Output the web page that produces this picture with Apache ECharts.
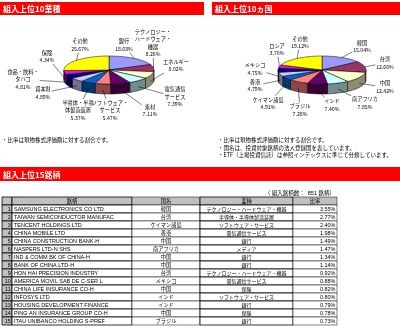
<!DOCTYPE html>
<html><head><meta charset="utf-8">
<script src="https://cdn.jsdelivr.net/npm/echarts@6/dist/echarts.min.js"></script>
<style>html,body{margin:0;padding:0;background:#fff}#c{width:400px;height:326px}</style>
</head><body><div id="c"></div>
<script>
// ---------- data ----------
const sectorNames = ['銀行','テクノロジー・ハードウェア・機器','エネルギー','電気通信サービス','素材','ソフトウェア・サービス','半導体・半導体製造装置','資本財','食品・飲料・タバコ','保険','その他'];
const sectorValues = [18.68, 8.26, 8.02, 7.39, 7.11, 5.47, 5.37, 4.89, 4.81, 4.34, 25.67];
const countryNames = ['韓国','台湾','中国','南アフリカ','インド','ブラジル','ケイマン諸島','香港','メキシコ','ロシア','その他'];
const countryValues = [15.04, 12.66, 12.42, 7.85, 7.40, 7.28, 4.91, 4.79, 4.75, 3.70, 19.12];
const holdingNames = ['SAMSUNG ELECTRONICS CO LTD','TAIWAN SEMICONDUCTOR MANUFAC','TENCENT HOLDINGS LTD','CHINA MOBILE LTD','CHINA CONSTRUCTION BANK-H','NASPERS LTD-N SHS','IND & COMM BK OF CHINA-H','BANK OF CHINA LTD-H','HON HAI PRECISION INDUSTRY','AMERICA MOVIL SAB DE C-SER L','CHINA LIFE INSURANCE CO-H','INFOSYS LTD','HOUSING DEVELOPMENT FINANCE','PING AN INSURANCE GROUP CO-H','ITAU UNIBANCO HOLDING S-PREF'];
const holdingCountries = ['韓国','台湾','ケイマン諸島','香港','中国','南アフリカ','中国','中国','台湾','メキシコ','中国','インド','インド','中国','ブラジル'];
const holdingSectors = ['テクノロジー・ハードウェア・機器','半導体・半導体製造装置','ソフトウェア・サービス','電気通信サービス','銀行','メディア','銀行','銀行','テクノロジー・ハードウェア・機器','電気通信サービス','保険','ソフトウェア・サービス','銀行','保険','銀行'];
const holdingWeights = [3.55, 2.77, 2.40, 1.98, 1.49, 1.47, 1.34, 1.14, 0.92, 0.88, 0.82, 0.80, 0.79, 0.78, 0.73];
const tableHeaders = ['', '銘柄', '国名', '業種', '比率'];
const totalHoldings = 851;

// ---------- layout / style ----------
const FONT = '"Liberation Sans","Noto Sans CJK JP",sans-serif';
const CJK = '"Noto Sans CJK JP",sans-serif';
const palette = ['#9999FF','#993366','#FFFFCC','#CCFFFF','#660066','#FF8080','#0066CC','#CCCCFF','#000080','#FF00FF','#FFFF00'];
const sectorLayout = {cx:109, cy:70, rx:45, ry:14, depth:10,
  wrap:[0,7,0,4,0,7,6,0,6,0,0],
  offs:[[15,-25],[44,-27],[67,-4.5],[66,27],[41,40.7],[1,40.3],[-31,40.3],[-66,23],[-86,9.5],[-62,-13.5],[-29,-25]]};
const countryLayout = {cx:322, cy:70, rx:44, ry:14, depth:10,
  wrap:[0,0,0,0,0,0,0,0,0,0,0],
  offs:[[40,-23.3],[63,-7],[63,17],[43,33],[10,35],[-22,40],[-54,33.3],[-67,15.5],[-67,-1],[-45,-20.6],[-22,-27.7]]};
const LBL_FS = 5.2, LBL_LH = 7.5;

function shade(hex, f){const n=parseInt(hex.slice(1),16);return 'rgb('+(((n>>16)&255)*f|0)+','+(((n>>8)&255)*f|0)+','+((n&255)*f|0)+')';}
function wrapText(s, w){ if(!w) return [s]; const out=[]; for(let i=0;i<s.length;i+=w) out.push(s.slice(i,i+w)); return out; }
function textW(s, fs){ let w=0; for(const ch of s){ w += ch.charCodeAt(0)>0x2e80 ? fs : fs*0.56; } return w; }

function pieSeries(names, values, L){
  const total = values.reduce((a,b)=>a+b,0);
  const starts=[]; let acc=0; values.forEach(v=>{starts.push(acc); acc+=v;});
  return {
    type:'custom', coordinateSystem:'none', silent:true, animation:false,
    data: values.map((v,i)=>({name:names[i], value:[v, starts[i]]})),
    renderItem(params, api){
      const i = params.dataIndex;
      const v = api.value(0), s = api.value(1);
      const a1 = s/total*2*Math.PI, a2 = (s+v)/total*2*Math.PI;
      const P = (a,dy)=>[L.cx + L.rx*Math.sin(a), L.cy - L.ry*Math.cos(a) + (dy||0)];
      const col = palette[i];
      const children = [];
      const f1 = Math.max(a1, Math.PI/2), f2 = Math.min(a2, 1.5*Math.PI);
      if (f2 > f1){
        const sp=[]; const m=Math.max(2,Math.ceil((f2-f1)/0.03));
        for(let k=0;k<=m;k++) sp.push(P(f1+(f2-f1)*k/m));
        for(let k=m;k>=0;k--) sp.push(P(f1+(f2-f1)*k/m, L.depth));
        children.push({type:'polygon', z2:1, shape:{points:sp}, style:{fill:shade(col,0.55), stroke:'#000', lineWidth:0.5}});
      }
      const pts=[[L.cx,L.cy]]; const n=Math.max(2,Math.ceil((a2-a1)/0.03));
      for(let k=0;k<=n;k++) pts.push(P(a1+(a2-a1)*k/n));
      children.push({type:'polygon', z2:2, shape:{points:pts}, style:{fill:col, stroke:'#000', lineWidth:0.5}});
      // label
      const lines = wrapText(names[i], L.wrap[i]).concat([v.toFixed(2)+'%']);
      const lx = L.cx + L.offs[i][0], ly = L.cy + L.offs[i][1];
      const hw = Math.max(...lines.map(t=>textW(t,LBL_FS)))/2 + 1, hh = lines.length*LBL_LH/2;
      children.push({type:'text', z2:5, style:{text:lines.join('\n'), x:lx, y:ly, fill:'#000', fontSize:LBL_FS, fontFamily:CJK, lineHeight:LBL_LH, align:'center', verticalAlign:'middle'}});
      // leader
      const am = (a1+a2)/2;
      const front = Math.cos(am) < 0;
      const st = P(am, front ? L.depth*0.6 : 0);
      const dx = st[0]-lx, dy = st[1]-ly;
      const t = Math.min(dx? hw/Math.abs(dx) : 1e9, dy? hh/Math.abs(dy) : 1e9);
      if (t < 1){
        const en = [lx+dx*t, ly+dy*t];
        children.push({type:'line', z2:4, shape:{x1:st[0], y1:st[1], x2:en[0], y2:en[1]}, style:{stroke:'#000', lineWidth:0.5}});
      }
      return {type:'group', children};
    }
  };
}

// ---------- table ----------
const colEdges = [0, 10, 130, 198, 291, 335];
const rowKeys = ['hdr'].concat(holdingNames.map((_,i)=>String(i+1)));
const tableSeries = {
  type:'custom', coordinateSystem:'cartesian2d', silent:true, animation:false, clip:false,
  data: rowKeys.map((_,i)=>[0,i]),
  encode:{x:0, y:1},
  renderItem(params, api){
    const r = params.dataIndex;
    const yc = api.coord([0, r])[1];
    const h = api.size([0, 1])[1];
    const y0 = yc - h/2;
    const xs = colEdges.map(e=>api.coord([e, r])[0]);
    const ch = [];
    for (let c=0;c<5;c++){
      const gray = (r===0 || c===0);
      ch.push({type:'rect', shape:{x:xs[c], y:y0, width:xs[c+1]-xs[c], height:h},
        style:{fill: gray ? '#C0C0C0' : '#fff', stroke:'#000', lineWidth: c===0||c===1||c===3 ? 0.8 : 0.5}});
    }
    const T = (text, x, align, fam, fs)=>ch.push({type:'text', z2:3, style:{text, x, y:yc+0.3, fill:'#000', fontSize:fs||5.5, fontFamily:fam||FONT, align, verticalAlign:'middle'}});
    if (r===0){
      for (let c=1;c<5;c++) T(tableHeaders[c], (xs[c]+xs[c+1])/2, 'center', CJK, 5.3);
    } else {
      const k = r-1;
      T(String(r), xs[1]-1.2, 'right');
      T(holdingNames[k], xs[1]+2, 'left');
      T(holdingCountries[k], (xs[2]+xs[3])/2, 'center', CJK, 5.2);
      T(holdingSectors[k], (xs[3]+xs[4])/2, 'center', CJK, 5);
      T(holdingWeights[k].toFixed(2)+'%', xs[5]-1.5, 'right');
    }
    return {type:'group', children:ch};
  }
};

function bar(x, y, w, h, text){
  return [
    {type:'rect', shape:{x, y, width:w, height:h}, style:{fill:'#FF0000'}, silent:true},
    {type:'text', style:{text, x:x+3, y:y+h/2+0.5, fill:'#fff', fontSize:8, fontWeight:'bold', fontFamily:CJK, verticalAlign:'middle'}, silent:true}
  ];
}
const noteStyle = (text, x, y)=>({type:'text', silent:true, style:{text, x, y, fill:'#000', fontSize:5.5, fontFamily:CJK, verticalAlign:'middle'}});

const chart = echarts.init(document.getElementById('c'), null, {renderer:'canvas'});
chart.setOption({
  animation:false,
  grid:{left:2, top:197, width:335, height:128},
  xAxis:{type:'value', min:0, max:335, show:false},
  yAxis:{type:'category', data:rowKeys, inverse:true, show:false},
  graphic:{elements:[].concat(
    bar(0, 2, 204, 13, '組入上位10業種'),
    bar(212, 2, 188, 13, '組入上位10ヵ国'),
    bar(0, 167, 400, 14, '組入上位15銘柄'),
    [
      noteStyle('・比率は現物株式評価額に対する割合です。', 2, 140),
      noteStyle('・比率は現物株式評価額に対する割合です。', 218, 140),
      noteStyle('・国名は、投資対象銘柄の法人登録国を表しています。', 218, 147.5),
      noteStyle('・ETF（上場投資信託）は参照インデックスに準じて分類しています。', 218, 155),
      {type:'text', silent:true, style:{text:'（ 組入銘柄数：  '+totalHoldings+' 銘柄）', x:335, y:193.5, fill:'#000', fontSize:5.5, fontFamily:FONT, align:'right', verticalAlign:'middle'}}
    ]
  )},
  series:[ pieSeries(sectorNames, sectorValues, sectorLayout), pieSeries(countryNames, countryValues, countryLayout), tableSeries ]
});
</script>
</body></html>
